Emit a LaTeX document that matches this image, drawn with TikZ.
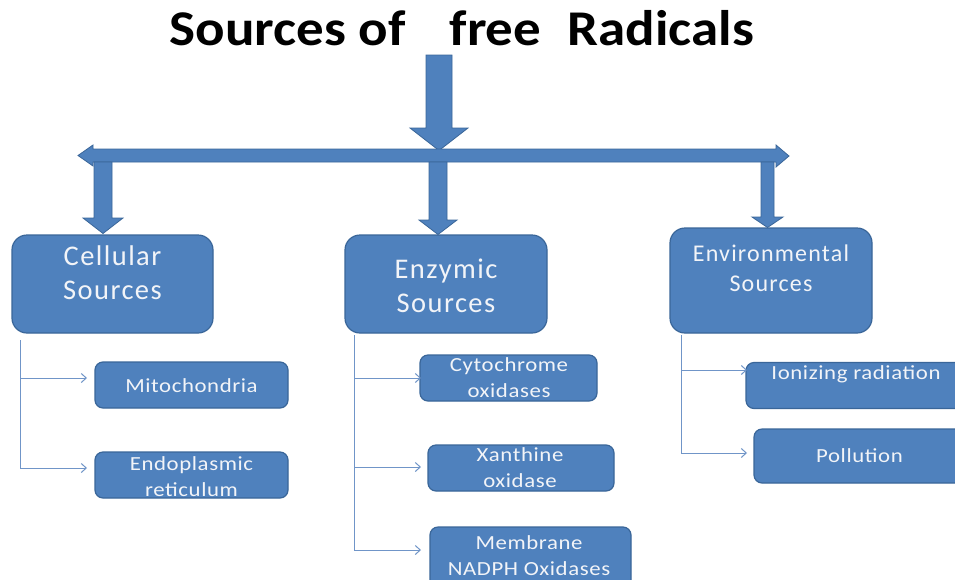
\documentclass[tikz,border=0pt]{standalone}
\usepackage{fontspec}
\setmainfont{Carlito}
\newfontfamily\bxf[LetterSpace=5]{Carlito}
\newfontfamily\sbxf[LetterSpace=3,FakeStretch=1.14]{Carlito}
\usetikzlibrary{arrows.meta,calc}
\definecolor{boxblue}{HTML}{4F81BD}
\definecolor{boxedge}{HTML}{3A6699}
\definecolor{connblue}{HTML}{7095C8}
\definecolor{txtwhite}{HTML}{F2F4F8}
\tikzset{
  bigbox/.style={draw=boxedge, line width=1.2pt, fill=boxblue, rounded corners=15pt, inner sep=0pt},
  smallbox/.style={draw=boxedge, line width=1.2pt, fill=boxblue, rounded corners=8pt, inner sep=0pt},
  bigtxt/.style={text=txtwhite, align=center, font=\bxf\fontsize{28.5}{34}\selectfont},
  envtxt/.style={text=txtwhite, align=center, font=\bxf\fontsize{24}{30}\selectfont},
  smalltxt/.style={text=txtwhite, align=center, font=\sbxf\fontsize{20}{26}\selectfont},
  fat/.style={fill=boxblue, draw=boxedge, line width=0.8pt, line join=miter},
  conn/.style={draw=connblue, line width=1pt},
  connarr/.style={conn, -{Straight Barb[length=5pt,width=9pt,line width=1pt]}},
}
\begin{document}
\begin{tikzpicture}[x=1pt,y=-1pt]
\useasboundingbox (0,0) rectangle (955,579);
\clip (0,0) rectangle (955,579);
\fill[white] (0,0) rectangle (955,579);

% title
\node[anchor=base, inner sep=0pt, font=\fontsize{50}{54}\selectfont\bfseries] (title) at (462,45)
  {\scalebox{1.1}[1]{Sources of\hspace{40pt}free\hspace{24pt}Radicals}};

% big arrow from title to bar
\path[fat] (426,55) -- (452,55) -- (452,128) -- (468,128) -- (439,150.5)
  -- (410,128) -- (426,128) -- cycle;

% horizontal double arrow bar
\path[fat] (78,155.5) -- (93,145) -- (93,149) -- (776,149) -- (776,145) -- (789,156)
  -- (776,167) -- (776,162) -- (93,162) -- (93,166) -- cycle;

% boxes
\node[bigbox, minimum width=201pt, minimum height=98pt] (cell) at (112.5,284) {};
\node[bigbox, minimum width=202pt, minimum height=98pt] (enz) at (446,284) {};
\node[bigbox, minimum width=202pt, minimum height=105pt] (env) at (771,280.5) {};

\node[bigtxt] (celltxt) at ($(cell.center)+(0,-11)$) {Cellular\\Sources};
\node[bigtxt] (enztxt) at ($(enz.center)+(0,2)$) {Enzymic\\Sources};
\node[envtxt] (envtxt) at ($(env.center)+(0,-12)$) {Environmental\\Sources};

% down arrows from bar to boxes
\path[fat] (94,162) -- (112,162) -- (112,218) -- (123,218) -- (103,233.5)
  -- (83,218) -- (94,218) -- cycle;
\path[fat] (429,162) -- (447,162) -- (447,220) -- (457,220) -- (438,234.5)
  -- (419,220) -- (429,220) -- cycle;
\path[fat] (761,162) -- (774,162) -- (774,217) -- (783,217) -- (767.5,227.5)
  -- (752,217) -- (761,217) -- cycle;

% sub boxes
\node[smallbox, minimum width=193pt, minimum height=46pt] (mito) at (191.5,385) {};
\node[smallbox, minimum width=193pt, minimum height=46pt] (endo) at (191.5,475) {};
\node[smallbox, minimum width=177pt, minimum height=46pt] (cyto) at (508.5,378) {};
\node[smallbox, minimum width=186pt, minimum height=46pt] (xan) at (521,468) {};
\node[smallbox, minimum width=201pt, minimum height=64pt] (mem) at (530.5,559) {};
\node[smallbox, minimum width=230pt, minimum height=46pt] (ion) at (861,385.5) {};
\node[smallbox, minimum width=220pt, minimum height=54pt] (pol) at (864,456) {};

\node[smalltxt] (mitotxt) at (191.5,386) {Mitochondria};
\node[smalltxt] (endotxt) at (191.5,477) {Endoplasmic\\reticulum};
\node[smalltxt] (cytotxt) at (509,378) {Cytochrome\\oxidases};
\node[smalltxt] (xantxt) at (520,468) {Xanthine\\oxidase};
\node[smalltxt] (memtxt) at (529,556) {Membrane\\NADPH Oxidases};
\node[smalltxt] (iontxt) at (856,374) {Ionizing radiation};
\node[smalltxt] (poltxt) at (859.5,456) {Pollution};

% thin connectors
\coordinate (ct) at (20,340);
\coordinate (et) at (354,335);
\coordinate (vt) at (681,335);
\draw[conn] (ct) -- (20,468);
\draw[connarr] (ct |- 0,378) -- (87,378);
\draw[connarr] (ct |- 0,468) -- (87,468);
\draw[conn] (et) -- (354,550);
\draw[connarr] (et |- 0,378) -- (421,378);
\draw[connarr] (et |- 0,467) -- (421,467);
\draw[connarr] (et |- 0,550) -- (421,550);
\draw[conn] (vt) -- (681,453);
\draw[connarr] (vt |- 0,370) -- (747,370);
\draw[connarr] (vt |- 0,453) -- (747,453);
\end{tikzpicture}
\end{document}
